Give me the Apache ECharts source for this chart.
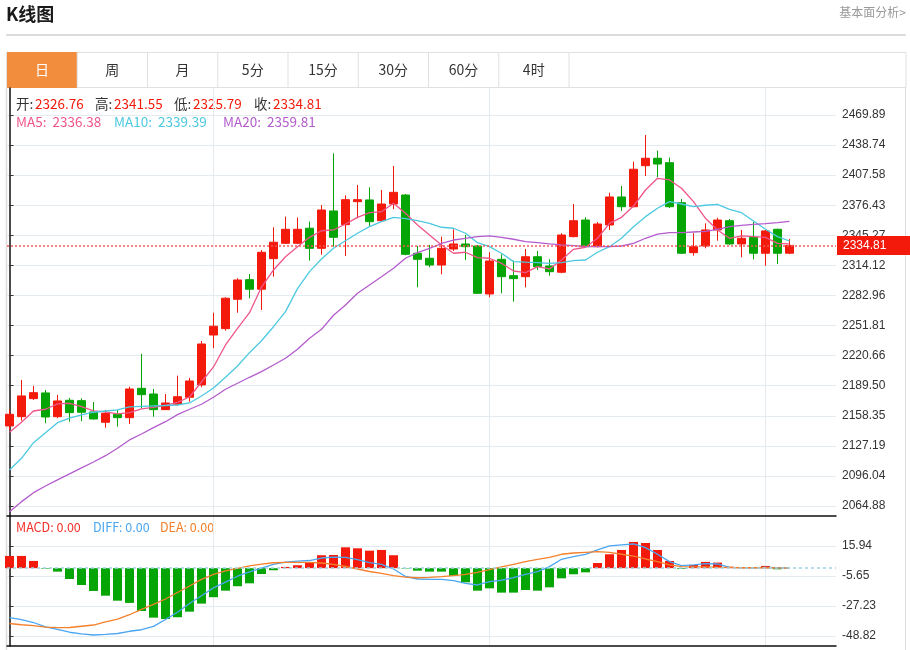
<!DOCTYPE html>
<html><head><meta charset="utf-8">
<script src="https://cdn.jsdelivr.net/npm/echarts@6/dist/echarts.min.js"></script>
<style>html,body{margin:0;padding:0;background:#fff}#c{width:910px;height:650px}</style>
</head><body><div id="c"></div>
<script>
// ---- data ----
// each candle: [open, close, low, high]
const candles = [
[2147.8,2159.9,2143.6,2165.1],[2157.4,2178.9,2153.3,2195.4],[2176.1,2182.3,2174.7,2189.2],[2182.0,2157.1,2150.6,2185.1],
[2157.4,2173.7,2155.8,2179.9],[2174.4,2161.6,2152.2,2176.8],[2174.0,2162.0,2152.8,2176.5],[2162.3,2155.0,2154.5,2172.6],
[2151.6,2160.9,2146.0,2164.4],[2159.9,2156.4,2147.1,2164.4],[2156.4,2186.1,2149.9,2188.5],[2186.8,2180.2,2166.1,2222.4],
[2180.9,2164.7,2157.4,2186.1],[2164.7,2171.6,2164.4,2180.9],[2170.3,2178.1,2168.8,2199.9],[2177.5,2194.4,2173.0,2197.5],
[2190.3,2232.7,2187.9,2235.8],[2242.0,2251.1,2228.3,2265.1],[2248.6,2280.1,2246.5,2281.1],[2279.0,2299.0,2265.1,2300.8],
[2299.3,2289.4,2280.1,2305.2],[2289.4,2327.7,2267.9,2330.1],[2321.1,2338.1,2302.4,2353.6],[2337.0,2351.5,2336.3,2364.6],
[2337.0,2351.5,2336.0,2363.8],[2352.6,2331.8,2319.0,2359.4],[2331.8,2371.5,2325.2,2376.7],[2370.5,2343.2,2333.5,2430.2],
[2356.3,2382.2,2323.9,2386.7],[2380.1,2382.2,2362.9,2397.4],[2381.9,2359.4,2354.2,2395.0],[2360.4,2377.7,2359.6,2392.2],
[2377.7,2389.8,2372.2,2417.1],[2387.0,2325.6,2324.6,2388.1],[2326.7,2320.4,2291.4,2334.2],[2321.5,2314.5,2312.2,2335.3],
[2314.5,2331.8,2304.9,2343.9],[2331.1,2336.3,2329.0,2351.5],[2336.3,2333.5,2319.7,2345.6],[2334.2,2285.2,2284.5,2335.3],
[2284.5,2318.7,2281.1,2327.7],[2320.4,2302.4,2285.2,2325.6],[2303.5,2300.4,2276.5,2319.0],[2302.4,2323.1,2291.4,2331.1],
[2323.1,2312.8,2309.4,2329.0],[2313.5,2307.6,2303.5,2320.4],[2307.0,2345.6,2305.9,2347.4],[2343.9,2360.4,2343.2,2377.7],
[2361.1,2333.5,2332.9,2363.9],[2333.5,2357.0,2332.9,2359.1],[2356.0,2385.0,2350.8,2389.4],[2385.0,2374.9,2370.5,2396.4],
[2374.9,2413.7,2374.3,2421.5],[2417.4,2425.1,2406.7,2449.2],[2425.1,2419.1,2405.4,2432.9],[2420.5,2374.9,2373.6,2425.7],
[2379.1,2326.7,2326.0,2382.9],[2327.3,2333.5,2324.2,2347.4],[2334.2,2350.8,2331.8,2357.7],[2350.8,2361.1,2339.7,2363.5],
[2360.4,2336.3,2335.3,2362.2],[2336.3,2342.2,2322.5,2350.8],[2343.2,2326.7,2320.4,2359.1],[2326.7,2349.8,2313.8,2350.8],
[2351.5,2326.7,2315.6,2352.2],[2326.76,2334.81,2325.79,2341.55]
];
const ma5 = [2141.2,2151.6,2163.3,2165.1,2170.6,2171.3,2167.8,2163.3,2162.3,2160.2,2161.6,2165.4,2167.0,2169.0,2172.2,2177.8,
2193.3,2208.9,2231.7,2248.9,2265.1,2291.7,2309.4,2323.1,2333.5,2343.2,2350.0,2350.8,2357.0,2363.9,2368.7,2369.7,2378.4,
2368.1,2356.0,2345.6,2335.3,2326.7,2327.7,2322.1,2321.5,2316.3,2308.3,2306.6,2312.8,2310.4,2319.7,2330.8,2332.9,2342.2,
2357.7,2363.9,2375.6,2392.2,2404.3,2402.6,2394.0,2380.1,2362.9,2350.8,2342.2,2344.6,2343.9,2343.2,2336.9,2336.38];
const ma10 = [2102.2,2114.3,2130.5,2140.8,2151.2,2155.8,2159.2,2162.0,2163.3,2164.4,2167.5,2168.0,2168.5,2169.0,2169.5,2171.6,
2178.8,2187.1,2198.2,2209.9,2223.7,2236.1,2250.6,2266.2,2290.0,2307.6,2320.7,2331.8,2339.7,2347.4,2354.2,2359.4,2363.9,
2362.5,2360.4,2357.7,2353.6,2352.6,2347.4,2337.6,2333.5,2326.7,2318.0,2317.4,2317.0,2316.3,2317.0,2319.0,2319.7,2327.7,
2333.5,2342.2,2354.2,2364.6,2373.3,2380.1,2377.7,2374.9,2376.4,2377.4,2372.2,2368.7,2360.1,2351.5,2343.9,2339.39];
const ma20 = [2059.0,2069.4,2078.7,2085.6,2091.9,2098.1,2104.3,2110.5,2117.0,2124.7,2133.3,2139.5,2146.0,2152.2,2159.5,2165.1,
2170.3,2177.5,2185.8,2192.0,2198.2,2204.0,2210.9,2217.9,2227.2,2238.6,2247.9,2262.5,2273.0,2285.2,2293.8,2302.4,2311.1,
2321.5,2327.3,2331.8,2336.8,2340.4,2342.2,2343.9,2344.6,2343.2,2341.2,2338.7,2337.6,2336.3,2335.3,2334.5,2333.5,2333.5,
2333.5,2334.2,2337.0,2342.2,2346.6,2348.0,2348.0,2348.7,2349.4,2351.5,2354.2,2355.6,2356.7,2357.3,2358.4,2359.81];
const macd = [8.8,8.8,5.2,-0.4,-2.5,-7.8,-12.1,-16.4,-19.8,-23.4,-25.0,-30.8,-35.6,-36.6,-35.3,-31.3,-25.5,-20.9,-16.2,-13.0,
-10.9,-4.2,-1.5,0.9,2.1,3.7,9.3,9.5,15.0,14.3,12.6,13.1,9.3,-0.3,-1.8,-2.5,-2.5,-5.4,-10.2,-16.2,-14.5,-17.6,-17.6,-15.7,
-16.2,-13.8,-7.3,-4.4,-3.0,3.7,10.0,13.1,18.9,18.1,13.1,5.2,-0.5,2.3,4.5,4.0,1.0,0.8,0.5,1.6,-0.8,0.0];
const diff = [-35.6,-37.1,-39.1,-42.3,-44.0,-46.1,-47.3,-48.1,-47.7,-47.0,-45.4,-44.3,-41.9,-36.9,-31.7,-25.4,-19.8,-14.2,
-10.1,-5.8,-2.7,0.1,2.7,4.3,5.0,5.5,7.3,7.9,7.8,6.1,4.0,2.8,-0.6,-6.0,-7.8,-8.1,-8.0,-9.0,-10.9,-12.1,-9.7,-8.7,-6.8,-4.4,
-2.5,1.1,6.4,8.3,10.0,13.1,16.0,16.7,17.4,14.8,10.0,4.7,1.8,2.3,3.2,3.0,0.6,0.4,0.3,0.6,0.3,0.0];
const dea = [-39.8,-40.7,-41.4,-42.4,-42.8,-42.7,-41.8,-40.9,-38.7,-36.6,-33.5,-29.7,-26.0,-22.2,-17.5,-12.8,-8.1,-4.4,-2.0,
-0.2,1.6,2.9,3.9,4.2,4.2,4.1,3.7,2.8,1.2,-0.6,-2.4,-3.7,-5.3,-6.5,-6.9,-6.6,-6.1,-5.4,-4.4,-3.0,-1.1,0.9,2.8,4.7,6.4,7.8,
10.0,10.9,11.4,11.9,11.4,10.0,8.6,6.6,4.7,2.3,1.1,0.9,0.9,0.6,0.6,0.3,0.3,0.3,0.2,0.0];
const priceTicks = [2064.88,2096.04,2127.19,2158.35,2189.50,2220.66,2251.81,2282.96,2314.12,2345.27,2376.43,2407.58,2438.74,2469.89];
const macdTicks = [15.94,-5.65,-27.23,-48.82];
const splitIdx = [17,40,63];
const tabs = ['日','周','月','5分','15分','30分','60分','4时'];
const ohlcNames = ['开','高','低','收'];
const maNames = ['MA5','MA10','MA20'];
const macdNames = ['MACD','DIFF','DEA'];

// ---- styling ----
const RED = '#f31a0c', GREEN = '#06a506';
const MA_COLORS = ['#ef558a','#4cc9e0','#b45ccd'];
const MACD_COLORS = ['#f2302a','#4aa6f2','#f4802c'];
const CJK = '"Noto Sans CJK SC","Microsoft YaHei",sans-serif';
const LAT = '"Liberation Sans",Arial,sans-serif';
const GRIDC = '#e3ebf1';
const X_MIN = -0.2083, X_MAX = 68.875;

const last = candles[candles.length - 1];
const ohlcVals = [last[0], last[3], last[2], last[1]];
const maVals = [ma5, ma10, ma20].map(a => a[a.length - 1]);
const macdVals = [macd, diff, dea].map(a => a[a.length - 1]);

const g = [];
g.push({type:'text', left:6, top:5, style:{text:'K线图', font:'bold 18px '+CJK, fill:'#1a1a1a'}});
g.push({type:'text', right:4, top:6, style:{text:'基本面分析>', font:'12px '+CJK, fill:'#999'}});
g.push({type:'line', shape:{x1:6, y1:35, x2:906, y2:35}, style:{stroke:'#d0d0d0', lineWidth:1.5}});
g.push({type:'rect', shape:{x:6.5, y:52.5, width:899.5, height:35}, style:{fill:'#fff', stroke:'#e0e0e0', lineWidth:1}});
g.push({type:'rect', shape:{x:7, y:52, width:70, height:36}, style:{fill:'#f38d3e'}});
tabs.forEach((t, i) => {
  const x0 = 7 + 70.25 * i;
  g.push({type:'line', shape:{x1:x0 + 70.25, y1:52, x2:x0 + 70.25, y2:87.5}, style:{stroke:'#e0e0e0', lineWidth:1}});
  g.push({type:'text', x:x0 + 35, y:70, style:{text:t, font:'14px '+CJK, fill: i === 0 ? '#fff' : '#333', align:'center', verticalAlign:'middle'}});
});
g.push({type:'line', shape:{x1:6.5, y1:87.5, x2:6.5, y2:650}, style:{stroke:'#dcdcdc', lineWidth:1.5}});
g.push({type:'line', shape:{x1:905.5, y1:87.5, x2:905.5, y2:650}, style:{stroke:'#dcdcdc', lineWidth:1}});
const ohlcX = [16, 95, 174, 254];
ohlcNames.forEach((n, i) => {
  g.push({type:'text', x:ohlcX[i], y:104, style:{text:n+':', font:'13.5px '+CJK, fill:'#333', verticalAlign:'middle'}});
  g.push({type:'text', x:ohlcX[i] + 19, y:104, style:{text:ohlcVals[i].toFixed(2), font:'13.5px '+CJK, fill:RED, verticalAlign:'middle'}});
});
const maX = [16, 114, 223];
maNames.forEach((n, i) => {
  g.push({type:'text', x:maX[i], y:122, style:{text:n+':  '+maVals[i].toFixed(2), font:'13.5px '+CJK, fill:MA_COLORS[i], verticalAlign:'middle'}});
});
const macdX = [16, 93, 160];
macdNames.forEach((n, i) => {
  g.push({type:'text', x:macdX[i], y:527, style:{text:n+': '+macdVals[i].toFixed(2), font:'12.5px '+CJK, fill:MACD_COLORS[i], verticalAlign:'middle'}});
});

function xAxis(idx) {
  return {type:'value', gridIndex:idx, min:X_MIN, max:X_MAX,
    axisLabel:{show:false}, axisTick:{show:false, customValues:splitIdx},
    splitLine:{show:true, lineStyle:{color:GRIDC, width:1}},
    axisLine:{show:true, onZero:false, lineStyle:{color:'#111', width:1.5}}};
}
function yAxis(idx, min, max, ticks) {
  return {type:'value', gridIndex:idx, position:'right', min, max,
    axisLine:{show:true, lineStyle:{color:'#111', width:1.5}},
    axisTick:{show:true, length:4, lineStyle:{color:'#333'}, customValues:ticks},
    axisLabel:{customValues:ticks, formatter:v => v.toFixed(2), color:'#333', fontSize:12, margin:6, fontFamily:LAT},
    splitLine:{show:true, lineStyle:{color:GRIDC, width:1}}};
}
const line = (data, color, xi, yi) => ({type:'line', xAxisIndex:xi, yAxisIndex:yi, data:data.map((v, i) => [i, v]),
  symbol:'none', showSymbol:false, silent:true, lineStyle:{color, width:1.3}, itemStyle:{color}});

const option = {
  animation:false,
  backgroundColor:'#fff',
  graphic:g,
  grid:[{left:7, right:74, top:88, height:428}, {left:7, right:74, top:516, height:130}],
  xAxis:[xAxis(0), xAxis(1)],
  yAxis:[yAxis(0, 2054.52, 2497.86, priceTicks), yAxis(1, -56.0, 37.53, macdTicks)],
  series:[
    {type:'candlestick', xAxisIndex:0, yAxisIndex:0, barWidth:9, silent:true,
     data:candles.map((c, i) => [i, c[0], c[1], c[2], c[3]]),
     itemStyle:{color:RED, color0:GREEN, borderColor:RED, borderColor0:GREEN, borderWidth:1},
     markLine:{silent:true, symbol:'none', animation:false,
       lineStyle:{color:'#f35a5a', type:[2,2], width:1.5},
       label:{show:true, position:'end', distance:1, formatter:last[1].toFixed(2), color:'#fff', backgroundColor:RED,
         padding:[3,24,3,6], fontSize:12, lineHeight:13, fontFamily:LAT},
       data:[{yAxis:last[1]}]}},
    line(ma5, MA_COLORS[0], 0, 0),
    line(ma10, MA_COLORS[1], 0, 0),
    line(ma20, MA_COLORS[2], 0, 0),
    {type:'bar', xAxisIndex:1, yAxisIndex:1, barWidth:9, silent:true,
     data:macd.map((v, i) => [i, v]),
     itemStyle:{color:p => p.value[1] >= 0 ? RED : GREEN},
     markLine:{silent:true, symbol:'none', animation:false, label:{show:false},
       lineStyle:{color:'#9fd2e6', type:[3,3], width:1.5}, data:[{yAxis:0}]}},
    line(diff, MACD_COLORS[1], 1, 1),
    line(dea, MACD_COLORS[2], 1, 1)
  ]
};
const chart = echarts.init(document.getElementById('c'), null, {renderer:'canvas'});
chart.setOption(option);
</script></body></html>
